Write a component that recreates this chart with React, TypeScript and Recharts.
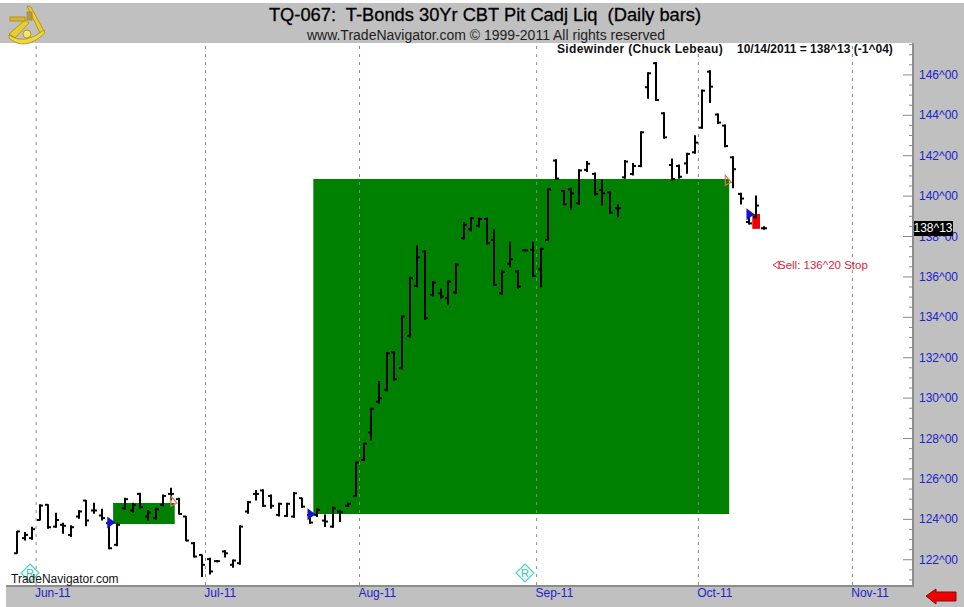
import { Bar, ComposedChart, ReferenceArea, ReferenceDot, ReferenceLine, XAxis, YAxis } from "recharts";

const W = 964;
const H = 607;
const FONT = "'Liberation Sans', Arial, sans-serif";
const BLUE = "#2222cc";

// daily bars (decimal points, not 32nds)
const opens = [
  122.32, 123.07, 123.07, 123.97, 124.72, 123.64, 123.73, 123.23, 124.14, 124.93,
  124.44, 124.19, 123.81, 122.74, 124.55, 124.44, 125.26, 124.14, 124.06, 124.72,
  125.26, 125.0, 124.14, 122.82, 122.24, 122.03, 121.93, 122.41, 121.75, 121.83,
  124.39, 125.26, 125.43, 125.16, 124.22, 124.17, 124.14, 125.05, 124.22, 124.22,
  123.94, 123.64, 124.39, 124.67, 125.16, 126.94, 128.3, 129.82, 130.41, 132.27,
  131.48, 133.08, 135.56, 137.26, 135.11, 135.19, 134.95, 135.23, 137.92, 138.36,
  138.53, 138.87, 137.83, 135.19, 136.65, 136.27, 137.32, 137.34, 136.38, 137.83,
  141.76, 140.26, 140.34, 139.65, 141.3, 141.1, 140.3, 140.19, 139.4, 140.93,
  141.1, 141.49, 145.39, 146.58, 144.1, 141.54, 141.49, 141.62, 142.17, 143.39,
  146.16, 144.04, 143.49, 141.92, 140.11, 138.72, 138.98, 138.41,
];
const highs = [
  123.4, 123.35, 123.61, 124.72, 124.72, 124.3, 123.81, 123.68, 124.44, 124.93,
  124.8, 124.5, 123.89, 123.78, 125.05, 124.8, 125.29, 124.44, 124.55, 125.21,
  125.54, 125.05, 124.14, 122.85, 122.24, 122.08, 121.96, 122.46, 121.99, 123.68,
  124.88, 125.43, 125.46, 125.21, 124.8, 124.8, 125.33, 125.05, 124.3, 124.52,
  124.22, 124.6, 124.42, 124.8, 126.83, 127.77, 129.5, 130.82, 132.26, 132.31,
  134.07, 135.99, 137.54, 137.29, 135.77, 135.39, 135.8, 136.65, 138.69, 138.94,
  138.91, 138.91, 138.33, 136.3, 137.72, 136.3, 137.34, 137.72, 137.42, 140.36,
  141.8, 140.28, 140.39, 141.3, 141.71, 141.14, 140.8, 140.22, 139.56, 141.76,
  141.62, 143.19, 146.11, 146.61, 144.13, 141.84, 141.54, 142.12, 142.99, 145.25,
  146.21, 144.07, 143.52, 141.95, 140.14, 139.23, 140.01, 138.49,
];
const lows = [
  122.32, 122.98, 123.02, 123.97, 123.56, 123.61, 123.31, 123.15, 124.06, 123.68,
  124.3, 123.97, 122.54, 122.69, 124.5, 124.34, 124.55, 123.97, 124.01, 124.67,
  124.96, 124.26, 122.94, 122.13, 121.17, 121.3, 121.9, 122.13, 121.63, 121.78,
  124.3, 124.96, 124.63, 124.55, 124.17, 124.14, 124.1, 124.6, 123.81, 124.14,
  123.64, 123.61, 123.89, 124.63, 125.13, 126.91, 127.93, 129.75, 130.36, 130.9,
  131.45, 133.02, 135.52, 133.91, 135.06, 134.95, 134.62, 135.19, 137.88, 138.28,
  138.49, 137.64, 135.57, 135.14, 136.51, 135.44, 137.29, 136.02, 135.52, 137.8,
  140.84, 139.57, 139.35, 139.6, 141.22, 140.06, 139.56, 139.15, 138.98, 140.88,
  141.05, 141.46, 144.84, 144.73, 142.86, 140.8, 140.88, 141.13, 142.12, 143.36,
  144.63, 143.6, 142.45, 140.42, 139.61, 138.62, 138.9, 138.36,
];
const closes = [
  123.4, 123.23, 123.51, 124.68, 123.61, 123.97, 123.68, 123.61, 124.39, 123.94,
  124.44, 124.06, 122.57, 123.73, 125.0, 124.72, 124.6, 124.34, 124.5, 125.16,
  125.26, 124.27, 122.95, 122.16, 121.75, 121.42, 121.93, 122.32, 121.96, 123.64,
  124.85, 125.26, 124.67, 124.67, 124.77, 124.77, 125.29, 124.63, 123.84, 124.47,
  123.89, 124.55, 124.35, 124.77, 126.81, 127.74, 129.47, 130.0, 132.22, 130.94,
  134.04, 135.94, 136.98, 133.96, 135.72, 135.03, 135.77, 136.61, 138.58, 138.91,
  138.87, 137.67, 135.61, 136.25, 136.88, 135.52, 137.31, 136.05, 137.39, 140.34,
  140.87, 139.6, 140.14, 141.27, 141.6, 140.11, 140.14, 139.18, 139.4, 141.71,
  141.49, 143.16, 146.08, 144.76, 142.91, 140.85, 140.96, 142.09, 142.65, 145.22,
  145.42, 143.64, 142.48, 141.33, 139.88, 138.65, 139.53, 138.41,
];

// slots run past the last bar, out to the right edge of the plot
const SLOT_COUNT = 117;
const monthSlots = [3, 25, 45, 68, 89, 109];
const monthLabels = ["Jun-11", "Jul-11", "Aug-11", "Sep-11", "Oct-11", "Nov-11"];
const priceTicks = [
  121, 121.5, 122, 122.5, 123, 123.5, 124, 124.5, 125, 125.5, 126, 126.5, 127, 127.5,
  128, 128.5, 129, 129.5, 130, 130.5, 131, 131.5, 132, 132.5, 133, 133.5, 134, 134.5,
  135, 135.5, 136, 136.5, 137, 137.5, 138, 138.5, 139, 139.5, 140, 140.5, 141, 141.5,
  142, 142.5, 143, 143.5, 144, 144.5, 145, 145.5, 146, 146.5, 147, 147.5,
];

const tableData = Array.from({ length: SLOT_COUNT }, (_, i) => ({
  slot: i,
  open: opens[i],
  high: highs[i],
  low: lows[i],
  close: closes[i],
  range: i < highs.length ? [lows[i], highs[i]] : null,
}));

function OhlcBar(props: any) {
  const { x, y, width, height, payload } = props;
  if (payload.high == null) return null;
  const cx = Math.round(x + width / 2);
  const perUnit = height / Math.max(payload.high - payload.low, 0.001);
  const openY = y + (payload.high - payload.open) * perUnit;
  const closeY = y + (payload.high - payload.close) * perUnit;
  return (
    <g stroke="#000" strokeWidth={2} fill="none">
      <line x1={cx} x2={cx} y1={y - 0.5} y2={y + height + 0.5} />
      <line x1={cx - 3} x2={cx} y1={openY} y2={openY} />
      <line x1={cx} x2={cx + 3} y1={closeY} y2={closeY} />
    </g>
  );
}

function MonthTick(props: any) {
  const { x, y, index } = props;
  return (
    <text x={x - 5} y={y + 12} fontSize={12} fontFamily={FONT} fill={BLUE} textAnchor="start">
      {monthLabels[index]}
    </text>
  );
}

function PriceTick(props: any) {
  const { x, y, payload } = props;
  const major = payload.value % 2 === 0;
  // plot runs 2px under the axis rule, which sits at 912
  const axisX = x - 2;
  return (
    <g>
      <line x1={axisX} x2={axisX - (major ? 9 : 3)} y1={y} y2={y} stroke="#8a8a8a" />
      {major && (
        <text x={axisX + 7} y={y + 4} fontSize={12} fontFamily={FONT} fill={BLUE}>
          {payload.value}^00
        </text>
      )}
    </g>
  );
}

const EntryArrow = (props: any) => (
  <path d={`M${props.cx - 2} ${props.cy - 6} L${props.cx + 6} ${props.cy} L${props.cx - 2} ${props.cy + 6} Z`} fill="#1414d2" />
);
const ExitArrow = (props: any) => (
  <path
    d={`M${props.cx} ${props.cy - 5} L${props.cx + 6} ${props.cy + 2} L${props.cx} ${props.cy + 5} Z`}
    fill="none"
    stroke="#e0705a"
    strokeWidth={1.2}
  />
);

function Logo() {
  return (
    <g stroke="#a88a10" strokeWidth={0.8} fill="#e8cc30">
      <path d="M27 6 L31 7 L44 31 L40 33 Z" />
      <path d="M9 34 L25 20 L29 23 L15 38 Z" />
      <path d="M9 35 Q24 46 44 30 L45 33 Q25 52 9 38 Z" fill="#f0d840" />
      <rect x="10" y="17" width="15" height="4" fill="#d8b828" />
      <rect x="27" y="12" width="5" height="8" fill="#b09a50" />
      <circle cx="27" cy="34" r="4" fill="#f4e46a" />
    </g>
  );
}

function RMarker({ x, y }: { x: number; y: number }) {
  return (
    <g>
      <path d={`M${x} ${y - 9} L${x + 9} ${y} L${x} ${y + 9} L${x - 9} ${y} Z`} fill="#f2fdfb" stroke="#55d0c0" strokeWidth={1.2} />
      <text x={x} y={y + 4} textAnchor="middle" fontSize={11} fontFamily={FONT} fill="#45bdb0">
        R
      </text>
    </g>
  );
}

export default function App() {
  return (
    <div style={{ position: "absolute", left: 0, top: 0, width: W, height: H, background: "#fff", overflow: "hidden" }}>
      <div style={{ position: "absolute", left: 0, top: 3, width: W, height: 40, background: "#c0c0c0" }} />
      <div style={{ position: "absolute", left: 912, top: 3, width: 52, height: 604, background: "#c0c0c0" }} />
      <div style={{ position: "absolute", left: 6, top: 586, width: 958, height: 21, background: "#c0c0c0" }} />
      <div style={{ position: "absolute", left: 6, top: 585, width: 908, height: 2, background: "#8c8c8c" }} />
      <div style={{ position: "absolute", left: 912, top: 43, width: 2, height: 544, background: "#8c8c8c" }} />
      <div style={{ position: "absolute", left: 0, top: 0 }}>
        <ComposedChart
          width={W}
          height={H}
          data={tableData}
          barCategoryGap={0}
          margin={{ top: 43, right: 0, bottom: 0, left: 6 }}
        >
          <XAxis
            dataKey="slot"
            type="category"
            ticks={monthSlots}
            interval={0}
            height={22}
            padding={{ left: 7, right: 0 }}
            axisLine={false}
            tickLine={false}
            tickSize={0}
            tickMargin={0}
            tick={<MonthTick />}
          />
          <YAxis
            orientation="right"
            width={50}
            type="number"
            domain={[120.75, 147.58]}
            allowDataOverflow
            ticks={priceTicks}
            interval={0}
            axisLine={false}
            tickLine={false}
            tickSize={0}
            tickMargin={0}
            tick={<PriceTick />}
          />
          {monthSlots.map((slot) => (
            <ReferenceLine key={slot} x={slot} position="start" stroke="#888" strokeDasharray="3 5" />
          ))}
          <ReferenceArea x1={13} x2={20} y1={123.77} y2={124.81} fill="#008000" fillOpacity={1} stroke="none" />
          <ReferenceArea x1={39} x2={92} y1={124.27} y2={140.85} fill="#008000" fillOpacity={1} stroke="none" />
          <ReferenceArea x1={96} x2={96} y1={138.38} y2={139.12} fill="#f00000" fillOpacity={1} stroke="none" />
          <Bar dataKey="range" isAnimationActive={false} shape={<OhlcBar />} />
          <ReferenceDot x={12} y={123.85} r={4} shape={<EntryArrow />} />
          <ReferenceDot x={38} y={124.25} r={4} shape={<EntryArrow />} />
          <ReferenceDot x={95} y={139.1} r={4} shape={<EntryArrow />} />
          <ReferenceDot x={20} y={124.9} r={4} shape={<ExitArrow />} />
          <ReferenceDot x={92} y={140.78} r={4} shape={<ExitArrow />} />
        </ComposedChart>
      </div>
      <svg width={W} height={H} style={{ position: "absolute", left: 0, top: 0, pointerEvents: "none" }}>
        <Logo />
        <text x={485} y={21} textAnchor="middle" fontSize={18.3} fontFamily={FONT} stroke="#000" strokeWidth={0.3} fill="#000" style={{ whiteSpace: "pre" }}>
          {"TQ-067:  T-Bonds 30Yr CBT Pit Cadj Liq  (Daily bars)"}
        </text>
        <text x={486} y={40} textAnchor="middle" fontSize={14} fontFamily={FONT} fill="#222">
          www.TradeNavigator.com © 1999-2011 All rights reserved
        </text>
        <text x={557} y={53} fontSize={12} fontWeight="bold" fontFamily={FONT} fill="#111" letterSpacing={0.35}>
          Sidewinder (Chuck Lebeau)
        </text>
        <text x={737} y={53} fontSize={12} fontWeight="bold" fontFamily={FONT} fill="#111">
          {"10/14/2011 = 138^13 (-1^04)"}
        </text>
        <RMarker x={30} y={573} />
        <RMarker x={525} y={573} />
        <text x={11} y={583} fontSize={12} fontFamily={FONT} fill="#111">
          TradeNavigator.com
        </text>
        <path d="M773 265 L779 261 L779 269 Z" fill="none" stroke="#d8324a" />
        <text x={778} y={269} fontSize={11.5} fontFamily={FONT} fill="#d8243c">
          {"Sell: 136^20 Stop"}
        </text>
        <rect x={914} y={221} width={39} height={15} fill="#000" />
        <text x={933} y={232} textAnchor="middle" fontSize={12} fontFamily={FONT} fill="#fff">
          {"138^13"}
        </text>
        <path d="M926 596 L936 589 L936 592 L956 592 L956 601 L936 601 L936 604 Z" fill="#f00000" stroke="#7a1010" />
      </svg>
    </div>
  );
}
